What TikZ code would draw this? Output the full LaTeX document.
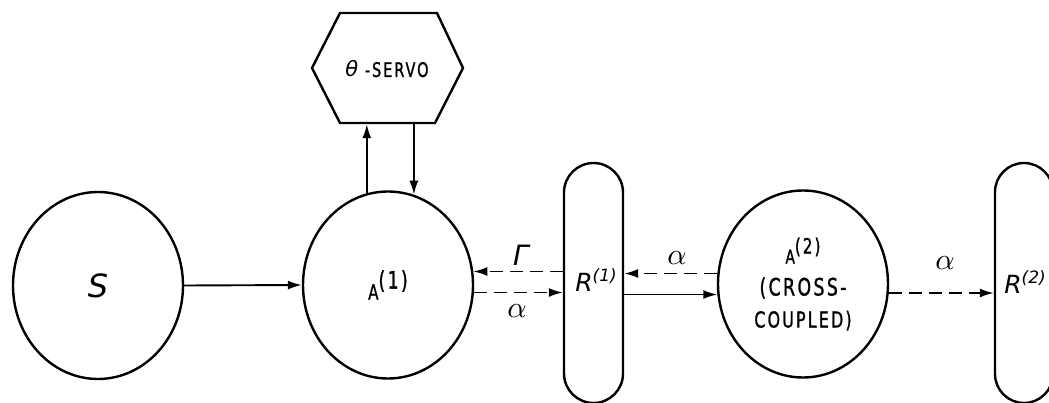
\documentclass[tikz,border=0pt]{standalone}
\usepackage[no-math]{fontspec}
\newfontfamily\lett[FakeStretch=0.72,LetterSpace=10,FakeBold=1.2]{DejaVu Sans}
\newfontfamily\obl{DejaVu Sans}
\usetikzlibrary{shapes.geometric,arrows.meta}
\begin{document}
\begin{tikzpicture}[x=1pt,y=-1pt,
  shape line/.style={line width=2.4pt},
  circ/.style={ellipse, draw, shape line, minimum width=170pt, minimum height=187pt, inner sep=0pt},
  res/.style={draw, shape line, rounded corners=29.5pt, minimum width=59pt, minimum height=240pt, inner sep=0pt},
  arr/.style={line width=1.9pt, -{Latex[length=14pt,width=9pt]}},
  darr/.style={arr, dash pattern=on 13pt off 7pt},
  greek/.style={inner sep=0pt},
  capstext/.style={font=\lett\fontsize{20}{20}\selectfont, inner sep=0pt}]
\clip (0,0) rectangle (1049,403);
% nodes
\node[circ, font=\obl\itshape\fontsize{32}{32}\selectfont] (S) at (98,285.5) {S};
\node[circ, font=\lett\fontsize{21}{21}\selectfont] (A1) at (388,285)
  {A\raisebox{11pt}{\fontsize{24}{24}\selectfont(1)}};
\node[circ, font=\lett\fontsize{19}{32}\selectfont, align=center] (A2) at (803,284)
  {A\raisebox{10pt}{\fontsize{21}{21}\selectfont(2)}\\{\fontsize{24}{32}\selectfont(CROSS-}\\{\fontsize{22}{32}\selectfont COUPLED)}};
\node[res] (R1) at (593.5,283) {};
\node[res, minimum width=58pt, rounded corners=29pt] (R2) at (1024,283) {};
\node[inner sep=0pt, font=\obl\itshape\fontsize{25}{25}\selectfont] (R1t) at (596,280)
  {R\raisebox{10pt}{\fontsize{17}{17}\selectfont(1)}};
\node[inner sep=0pt, font=\obl\itshape\fontsize{25}{25}\selectfont] (R2t) at (1025,282)
  {R\raisebox{10pt}{\fontsize{17}{17}\selectfont(2)}};
% servo hexagon
\draw[shape line] (312,68) -- (340,13) -- (437,13) -- (463,68) -- (435,123) -- (340,123) -- cycle;
\node[capstext, minimum height=110pt, minimum width=94pt] (servo) at (387,69)
  {{\obl\itshape\fontsize{21}{21}\selectfont θ} -SERVO};
% connectors
\draw[arr] (S.east) -- (A1.west);
\draw[arr] (A1.103) -- (A1.103 |- servo.south);
\draw[arr] (A1.74 |- servo.south) -- (A1.74);
\draw[darr] (R1.west |- A1.9) -- (A1.9);
\draw[darr] (A1.-5) -- (A1.-5 -| R1.west);
\draw[darr] (A2.173) -- (A2.173 -| R1.east);
\draw[arr] (R1.east |- A2.-173) -- (A2.-173);
\draw[darr] (A2.-6) -- (A2.-6 -| R2.west);
% labels
\node[inner sep=0pt, font=\obl\itshape\fontsize{28}{28}\selectfont] (gam) at (521,255) {Γ};
\node[greek] (al1) at (517,311) {\scalebox{3}{$\alpha$}};
\node[greek] (al2) at (677,258) {\scalebox{3}{$\alpha$}};
\node[greek] (al3) at (945,263) {\scalebox{3}{$\alpha$}};
\end{tikzpicture}
\end{document}
